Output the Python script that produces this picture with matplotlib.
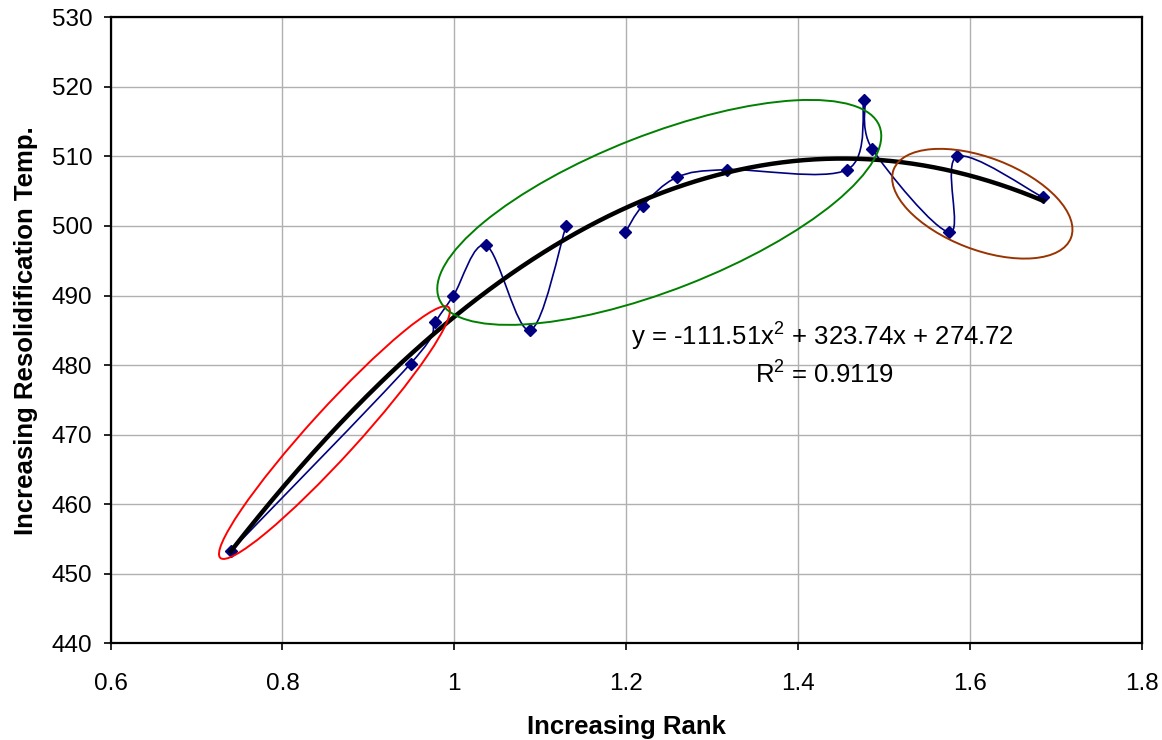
import numpy as np
import matplotlib
matplotlib.use("Agg")
import matplotlib.pyplot as plt
from matplotlib.path import Path
from matplotlib.patches import PathPatch, Ellipse
from matplotlib.transforms import ScaledTranslation

# data
rank = [0.740, 0.949, 0.978, 0.999, 1.037, 1.088, 1.130,
        1.199, 1.219, 1.259, 1.317, 1.457, 1.477, 1.486, 1.576, 1.585, 1.685]
temp = [453.3, 480.2, 486.2, 490.0, 497.2, 485.0, 500.0,
        499.1, 502.9, 507.0, 508.1, 508.1, 518.1, 511.1, 499.1, 510.0, 504.1]
gap_after = 7  # blue line is broken between 1.13 and 1.20

# polynomial trendline shown on the chart
trend_coef = [-111.51, 323.74, 274.72]
r_squared = 0.9119

x_ticks = [0.6, 0.8, 1.0, 1.2, 1.4, 1.6, 1.8]
x_tick_labels = ["0.6", "0.8", "1", "1.2", "1.4", "1.6", "1.8"]
y_ticks = [440, 450, 460, 470, 480, 490, 500, 510, 520, 530]

# highlight ellipses: centre (data), width/height (inches), angle (deg), colour
circles = [
    ((0.8605, 470.3), 3.39, 0.48, 47.7, "#ff0000"),
    ((1.2384, 501.95), 4.73, 1.55, 21.4, "#008000"),
    ((1.6142, 503.2), 1.90, 0.92, -21.1, "#993300"),
]

plt.rcParams['font.family'] = ['Liberation Sans', 'DejaVu Sans']
plt.rcParams['mathtext.fontset'] = 'custom'
plt.rcParams['mathtext.rm'] = 'Liberation Sans'
plt.rcParams['mathtext.it'] = 'Liberation Sans'

fig, ax = plt.subplots(figsize=(11.62, 7.40), dpi=100)
fig.subplots_adjust(left=0.0951, right=0.9828, bottom=0.1307, top=0.9766)


def smooth_path(xs, ys):
    # Excel-style smoothed line: cubic bezier through every point
    pts = np.column_stack([xs, ys])
    n = len(pts)
    verts = [pts[0]]
    codes = [Path.MOVETO]
    for i in range(n - 1):
        p0 = pts[max(i - 1, 0)]
        p1 = pts[i]
        p2 = pts[i + 1]
        p3 = pts[min(i + 2, n - 1)]
        c1 = p1 + (p2 - p0) / 6.0
        c2 = p2 - (p3 - p1) / 6.0
        verts += [c1, c2, p2]
        codes += [Path.CURVE4] * 3
    return Path(verts, codes)


for xs, ys in [(rank[:gap_after], temp[:gap_after]), (rank[gap_after:], temp[gap_after:])]:
    ax.add_patch(PathPatch(smooth_path(xs, ys), fill=False, edgecolor="#000080",
                           linewidth=1.2, zorder=3))

ax.plot(rank, temp, linestyle="none", marker="D", markersize=6.5,
        color="#000080", zorder=4)

xt = np.linspace(min(rank), max(rank), 300)
ax.plot(xt, np.polyval(trend_coef, xt), color="black", linewidth=3.2, zorder=5)

for (cx, cy), w, h, ang, col in circles:
    tr = fig.dpi_scale_trans + ScaledTranslation(cx, cy, ax.transData)
    ax.add_patch(Ellipse((0, 0), w, h, angle=ang, fill=False, edgecolor=col,
                         linewidth=1.4, transform=tr, zorder=6))

eq = "y = %.2fx$^{2}$ + %.2fx + %.2f" % tuple(trend_coef)
ax.text(1.4285, 484.0, eq, ha="center", va="center", fontsize=18.5, zorder=7)
ax.text(1.43, 478.6, "R$^{2}$ = %.4f" % r_squared, ha="center", va="center",
        fontsize=18.5, zorder=7)

ax.set_xlim(0.6, 1.8)
ax.set_ylim(440, 530)
ax.set_xticks(x_ticks)
ax.set_xticklabels(x_tick_labels)
ax.set_yticks(y_ticks)
ax.tick_params(axis="both", labelsize=17.5, length=5, width=1.2, direction="out")
ax.tick_params(axis="x", pad=16.5)
ax.tick_params(axis="y", pad=8)
ax.grid(True, color="#b0b0b0", linewidth=1.0)
ax.set_axisbelow(True)
for sp in ax.spines.values():
    sp.set_linewidth(1.6)
    sp.set_color("black")

ax.set_xlabel("Increasing Rank", fontsize=18.5, fontweight="bold", labelpad=14)
ax.set_ylabel("Increasing Resolidification Temp.", fontsize=18.5,
              fontweight="bold", labelpad=10)

plt.savefig("out.png", dpi=100)
